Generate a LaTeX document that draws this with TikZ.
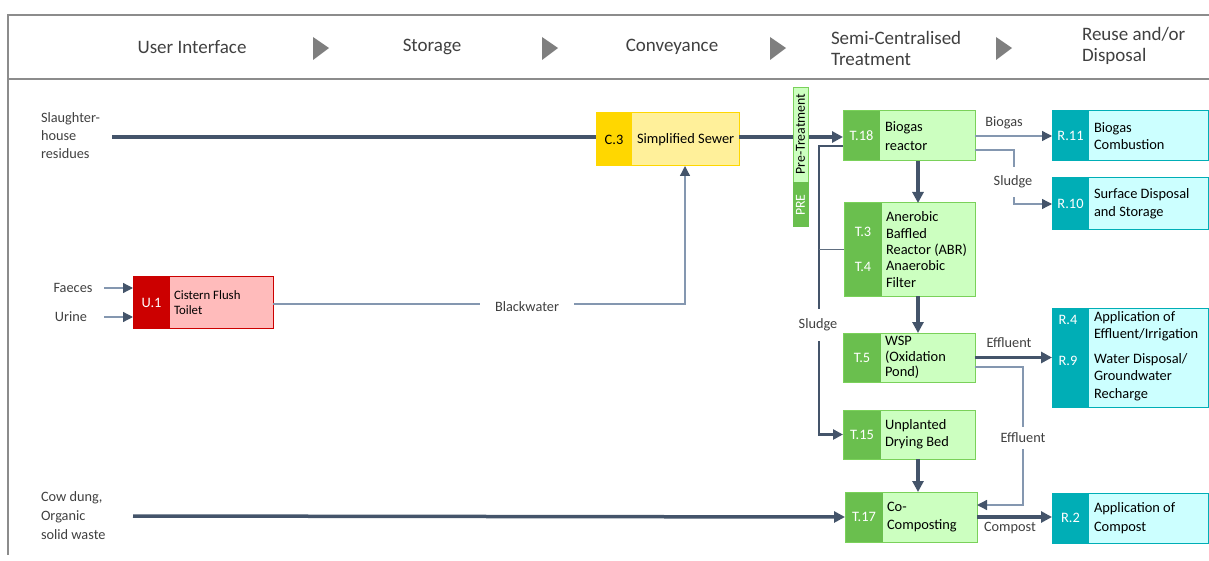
\documentclass[tikz,border=0pt]{standalone}
\usepackage{fontspec}
\setmainfont{Carlito}
\usetikzlibrary{arrows.meta,calc}
\definecolor{ln}{HTML}{44546A}
\definecolor{lnlight}{HTML}{8497B0}
\definecolor{gdark}{HTML}{6ABF4E}
\definecolor{glight}{HTML}{CCFFC0}
\definecolor{gbord}{HTML}{7AD15A}
\definecolor{tdark}{HTML}{00AEB6}
\definecolor{tlight}{HTML}{CCFFFF}
\definecolor{rdark}{HTML}{CC0000}
\definecolor{rlight}{HTML}{FFBBBB}
\definecolor{ydark}{HTML}{FFD700}
\definecolor{ylight}{HTML}{FFF09A}
\definecolor{txt}{HTML}{404040}
\definecolor{framec}{HTML}{8C8C8C}
\definecolor{hgray}{HTML}{7F7F7F}
\newcommand\mkbox[9]{%
  \node[boxbase, fill=#8, minimum width=#5, minimum height=#6] (#1) at (#3,#4) {};
  \fill[#2] (#1.north west) rectangle ([xshift=#7pt]#1.south west);
  \draw[#9, line width=1pt] (#1.north west) rectangle (#1.south east);
}
\tikzset{
  base/.style={inner sep=0pt, outer sep=0pt},
  boxbase/.style={base, anchor=north west},
  lbl/.style={base, font=\fontsize{14.3}{18}\selectfont, text=txt, align=left},
  hdr/.style={base, font=\fontsize{19}{21}\selectfont, text=txt, align=left},
  boxtxt/.style={base, font=\fontsize{14.4}{17}\selectfont, text=black, align=left, anchor=west},
  idtxt/.style={base, font=\fontsize{14.4}{17}\selectfont, text=white},
  bigflow/.style={line width=3.5pt, draw=ln, -{Triangle[length=11pt,width=11pt]}},
  bigline/.style={line width=3.5pt, draw=ln},
  medflow/.style={line width=2.6pt, draw=ln, -{Triangle[length=10pt,width=10pt]}},
  smallflow/.style={line width=1.3pt, draw=lnlight, -{Triangle[length=10pt,width=10pt,color=ln]}},
  branchline/.style={line width=1.6pt, draw=ln!85!white},
  hdrarrow/.style={fill=hgray, draw=none},
}
\begin{document}
\begin{tikzpicture}[x=1pt,y=-1pt]
\useasboundingbox (0,0) rectangle (1209,561);
% frame
\draw[framec, line width=1.5pt] (1209,15) -- (8,15) -- (8,555);
\draw[framec, line width=1.5pt] (8,79) -- (1209,79);
% header
\node[hdr] (h1) at (192,47) {User Interface};
\node[hdr] (h2) at (432,47) {Storage};
\node[hdr] (h3) at (672,47) {Conveyance};
\node[hdr, anchor=west] (h4) at (831,48) {Semi-Centralised\\Treatment};
\node[hdr, anchor=west] (h5) at (1082,46) {Reuse and/or\\Disposal};
\fill[hdrarrow] (313,37) -- (329,48) -- (313,60) -- cycle;
\fill[hdrarrow] (542,37) -- (558,48) -- (542,60) -- cycle;
\fill[hdrarrow] (770,37) -- (786,48) -- (770,60) -- cycle;
\fill[hdrarrow] (996,37) -- (1012,48) -- (996,60) -- cycle;

% boxes
\mkbox{u1}{rdark}{133}{276}{140}{52}{37}{rlight}{rdark}
\mkbox{c3}{ydark}{596}{113}{143}{53}{36}{ylight}{ydark}
\mkbox{t18}{gdark}{843}{111}{132}{50}{37}{glight}{gbord}
\mkbox{t3}{gdark}{844}{203}{131}{93}{38}{glight}{gbord}
\mkbox{t5}{gdark}{843}{333}{132}{49}{38}{glight}{gbord}
\mkbox{t15}{gdark}{843}{410}{132}{49}{38}{glight}{gbord}
\mkbox{t17}{gdark}{845}{492}{132}{50}{38}{glight}{gbord}
\mkbox{r11}{tdark}{1052}{111}{156}{50}{37}{tlight}{tdark}
\mkbox{r10}{tdark}{1052}{178}{156}{52}{37}{tlight}{tdark}
\mkbox{r49}{tdark}{1052}{308}{156}{99}{37}{tlight}{tdark}
\mkbox{r2}{tdark}{1052}{493}{156}{50}{37}{tlight}{tdark}

% box texts
\node[idtxt] (u1id) at (151.5,303) {U.1};
\node[boxtxt, font=\fontsize{12.8}{15}\selectfont] (u1tx) at (174,303) {Cistern Flush\\Toilet};
\node[idtxt, text=black] (c3id) at (614,140) {C.3};
\node[boxtxt] (c3tx) at (637,140) {Simplified Sewer};
\node[idtxt] (t18id) at (861.5,136) {T.18};
\node[boxtxt, font=\fontsize{14.4}{19}\selectfont] (t18tx) at (885,136) {Biogas\\reactor};
\node[idtxt] (t3id) at (863,232) {T.3};
\node[idtxt] (t4id) at (863,267) {T.4};
\node[boxtxt, font=\fontsize{14.4}{16.3}\selectfont] (t3tx) at (886,249.5) {Anerobic\\Baffled\\Reactor (ABR)\\Anaerobic\\Filter};
\node[idtxt] (t5id) at (862,357.5) {T.5};
\node[boxtxt, font=\fontsize{14.4}{15.5}\selectfont] (t5tx) at (885,357.5) {WSP\\(Oxidation\\Pond)};
\node[idtxt] (t15id) at (862,434.5) {T.15};
\node[boxtxt] (t15tx) at (885,434.5) {Unplanted\\Drying Bed};
\node[idtxt] (t17id) at (864,517) {T.17};
\node[boxtxt, font=\fontsize{14.4}{18}\selectfont] (t17tx) at (887,517) {Co-\\Composting};
\node[idtxt] (r11id) at (1070.5,136) {R.11};
\node[boxtxt] (r11tx) at (1094,136) {Biogas\\Combustion};
\node[idtxt] (r10id) at (1070.5,204) {R.10};
\node[boxtxt, font=\fontsize{14.4}{18}\selectfont] (r10tx) at (1094,204) {Surface Disposal\\and Storage};
\node[idtxt] (r4id) at (1068,320) {R.4};
\node[idtxt] (r9id) at (1068,361) {R.9};
\node[boxtxt, anchor=north west] (r4tx) at (1094,312) {Application of\\Effluent/Irrigation};
\node[boxtxt, anchor=north west, font=\fontsize{14.4}{17.5}\selectfont] (r9tx) at (1094,353) {Water Disposal/\\Groundwater\\Recharge};
\node[idtxt] (r2id) at (1070.5,518) {R.2};
\node[boxtxt, font=\fontsize{14.4}{19}\selectfont] (r2tx) at (1094,518) {Application of\\Compost};

% left labels
\node[lbl, anchor=west, font=\fontsize{14.3}{18}\selectfont] (slh) at (41,136) {Slaughter-\\house\\residues};
\node[lbl, anchor=west, font=\fontsize{14.3}{19}\selectfont] (cow) at (41,516) {Cow dung,\\Organic\\solid waste};
\node[lbl] (fae) at (73,288) {Faeces};
\node[lbl] (uri) at (71,317) {Urine};

% connectors
\coordinate (shs) at (112,137);
\draw[bigline] (shs) -- (shs -| c3.west);
\draw[bigflow] (c3.east |- shs) -- (t18.west |- shs);
\coordinate (fs) at (104,288);
\coordinate (us) at (104,317);
\draw[smallflow] (fs) -- (fs -| u1.west);
\draw[smallflow] (us) -- (us -| u1.west);
\coordinate (bw) at (685,304);
\draw[smallflow] (u1.east |- bw) -- (bw) -- (bw |- c3.south);
\node[lbl, fill=white, inner xsep=15pt, inner ysep=3pt] (bwl) at (527,307) {Blackwater};

\coordinate (cw) at (133,516);
\draw[bigflow] (cw) -- (t17.west);

\coordinate (vx) at (918,0);
\draw[bigflow] (t18.south -| vx) -- (t3.north -| vx);
\draw[bigflow] (t3.south -| vx) -- (t5.north -| vx);
\draw[bigflow] (t15.south -| vx) -- (t17.north -| vx);

% sludge line
\coordinate (sl1) at (819,146);
\draw[medflow] (t18.west |- sl1) -- (sl1) -- (sl1 |- t15.west) -- (t15.west);
\draw[branchline] (t3.west -| sl1) -- (t3.west);
\node[lbl, fill=white, inner xsep=2pt, inner ysep=10pt] (sll) at (818,325) {Sludge};

% biogas / sludge to R
\draw[smallflow] (t18.east) -- (r11.west);
\node[lbl] (bgl) at (1004,123) {Biogas};
\coordinate (s2) at (1014,150);
\draw[smallflow] (t18.east |- s2) -- (s2) -- (s2 |- r10.west) -- (r10.west);
\node[lbl, fill=white, inner xsep=2pt, inner ysep=9pt] (s2l) at (1013,182) {Sludge};

% effluent
\draw[bigflow] (t5.east) -- (t5.east -| r49.west);
\node[lbl] (efl) at (1009,343) {Effluent};
\coordinate (e2) at (1023,367);
\coordinate (e3) at (1023,505);
\draw[smallflow] (t5.east |- e2) -- (e2) -- (e3) -- (e3 -| t17.east);
\node[lbl, fill=white, inner xsep=2pt, inner ysep=6pt] (e2l) at (1023,438) {Effluent};

% compost
\draw[bigflow] (t17.east) -- (t17.east -| r2.west);
\node[lbl] (cpl) at (1010,528) {Compost};

% pre-treatment bar (drawn over the sewer line)
\node[boxbase, fill=glight, draw=gbord, line width=0.8pt, minimum width=15, minimum height=95] (pre) at (793,87) {};
\node[boxbase, fill=gdark, draw=gdark, line width=0.8pt, minimum width=15, minimum height=44] (pred) at (793,182) {};
\node[base, rotate=90, font=\fontsize{13.8}{15}\selectfont] (pretx) at (800.5,134) {Pre-Treatment};
\node[base, rotate=90, font=\fontsize{13.8}{15}\selectfont, text=white] (predtx) at (800.5,205) {PRE};
\end{tikzpicture}
\end{document}
